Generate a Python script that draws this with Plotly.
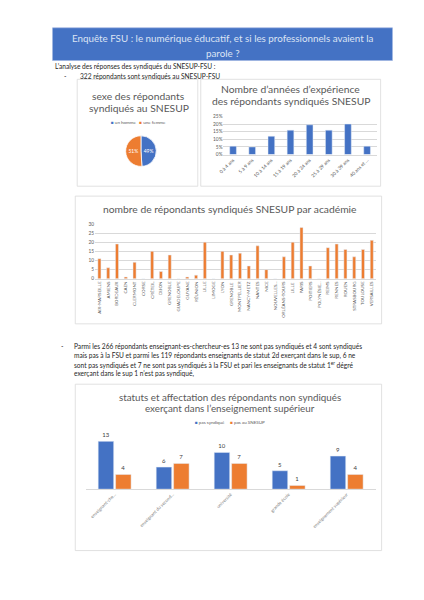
import plotly.graph_objects as go

# --- données ---
sexe_labels = ["un homme", "une femme"]
sexe_values = [49, 51]

experience_cats = ["0 à 4 ans", "5 à 9 ans", "10 à 14 ans", "15 à 19 ans",
                   "20 à 24 ans", "25 à 29 ans", "30 à 39 ans", "40 ans et ..."]
experience_pct = [0.055, 0.05, 0.12, 0.16, 0.195, 0.16, 0.20, 0.055]

academies = ["AIX-MARSEILLE", "AMIENS", "BORDEAUX", "CAEN", "CLERMONT", "CORSE",
             "CRÉTEIL", "DIJON", "GRENOBLE", "GUADELOUPE", "GUYANE", "RÉUNION",
             "LILLE", "LIMOGE", "LYON", "GRENOBLE ", "MONTPELLIER", "NANCY-METZ",
             "NANTES", "NICE", "NOUVELLES...", "ORLÉANS-TOURS", "LILLE ", "PARIS",
             "POITIERS", "POLYNÉSIE...", "REIMS", "RENNES", "ROUEN", "STRASBOURG",
             "TOULOUSE", "VERSAILLES"]
academie_counts = [11, 6, 19, 1, 9, 0, 15, 4, 13, 0, 1, 2, 20, 0, 15, 13, 14, 7,
                   18, 5, 0, 12, 20, 28, 7, 0, 17, 19, 16, 12, 16, 21]

statut_cats = ["enseignant-che...", "enseignant du second...", "université",
               "grande école", "enseignement supérieur"]
pas_syndique = [13, 6, 10, 5, 9]
pas_snesup = [4, 7, 7, 1, 4]

BLUE = "#4472C4"
ORANGE = "#ED7D31"
GREY = "#595959"
FONT = "Lato"
W, H = 424, 600


def X(px):
    return px / W


def Y(py):
    return 1 - py / H


fig = go.Figure()

# camembert sexe
fig.add_trace(go.Pie(
    labels=sexe_labels, values=sexe_values, sort=False, direction="clockwise",
    marker=dict(colors=[BLUE, ORANGE], line=dict(color="white", width=0.8)),
    texttemplate="%{value}%", textposition="inside",
    textfont=dict(color="white", size=5, family=FONT),
    insidetextorientation="horizontal",
    domain=dict(x=[X(114), X(145)], y=[Y(157), Y(126)]),
    showlegend=False, hoverinfo="label+percent",
))

# expérience
fig.add_trace(go.Bar(
    x=experience_cats, y=experience_pct, marker_color=BLUE, width=0.35,
    xaxis="x", yaxis="y", showlegend=False,
))

# académies
fig.add_trace(go.Bar(
    x=academies, y=academie_counts, marker_color=ORANGE, width=0.35,
    xaxis="x2", yaxis="y2", showlegend=False,
))

# statuts non syndiqués
fig.add_trace(go.Bar(
    x=statut_cats, y=pas_syndique, name="pas syndiqué", marker_color=BLUE,
    text=pas_syndique, textposition="outside", cliponaxis=False,
    textfont=dict(size=6, color="#404040", family=FONT),
    xaxis="x3", yaxis="y3", showlegend=False,
))
fig.add_trace(go.Bar(
    x=statut_cats, y=pas_snesup, name="pas au SNESUP", marker_color=ORANGE,
    text=pas_snesup, textposition="outside", cliponaxis=False,
    textfont=dict(size=6, color="#404040", family=FONT),
    xaxis="x3", yaxis="y3", showlegend=False,
))

tick = dict(family=FONT, size=4.8, color=GREY)
fig.update_layout(
    width=W, height=H, margin=dict(l=0, r=0, t=0, b=0),
    paper_bgcolor="white", plot_bgcolor="white",
    font=dict(family=FONT, color=GREY),
    barmode="group", bargap=0.4, bargroupgap=0.11,
    xaxis=dict(domain=[X(213), X(368)], anchor="y", tickangle=-45, tickfont=tick,
               showline=True, linecolor="#D9D9D9", linewidth=0.8, ticks=""),
    yaxis=dict(domain=[Y(145), Y(106.5)], anchor="x", range=[0, 0.25], dtick=0.05,
               tickformat=".0%", tickfont=tick, gridcolor="#D9D9D9", gridwidth=0.6,
               zeroline=False),
    xaxis2=dict(domain=[X(83), X(367.5)], anchor="y2", tickangle=-90,
                tickfont=dict(family=FONT, size=4.5, color=GREY),
                showline=True, linecolor="#D9D9D9", linewidth=0.8, ticks=""),
    yaxis2=dict(domain=[Y(270.5), Y(215)], anchor="x2", range=[0, 30], dtick=5,
                tickfont=tick, gridcolor="#D9D9D9", gridwidth=0.6, zeroline=False),
    xaxis3=dict(domain=[X(73.5), X(367)], anchor="y3", tickangle=-45,
                tickfont=dict(family=FONT, size=4.5, color="#7F7F7F"),
                showline=True, linecolor="#D9D9D9", linewidth=0.8, ticks=""),
    yaxis3=dict(domain=[Y(483), Y(431)], anchor="x3", range=[0, 14],
                visible=False, showgrid=False),
)

shapes = [
    dict(type="rect", xref="paper", yref="paper",
         x0=X(40), x1=X(384), y0=Y(50), y1=Y(17),
         fillcolor=BLUE, line=dict(color="#9DB4E0", width=0.6), layer="below"),
]
for x0, y0, x1, y1 in [(65, 69, 187, 177), (190, 69, 372, 177),
                       (63, 187, 373, 316), (63, 377, 373, 545)]:
    shapes.append(dict(type="rect", xref="paper", yref="paper",
                       x0=X(x0), x1=X(x1), y0=Y(y1), y1=Y(y0),
                       line=dict(color="#D9D9D9", width=0.8), layer="below"))
fig.update_layout(shapes=shapes)


def note(px, py, text, size, color="#262626", xanchor="left", align="left"):
    fig.add_annotation(x=X(px), y=Y(py), xref="paper", yref="paper", text=text,
                       showarrow=False, xanchor=xanchor, yanchor="middle", align=align,
                       font=dict(family=FONT, size=size, color=color))


note(212, 27, "Enquête FSU : le numérique éducatif, et si les professionnels avaient la",
     9.8, color="#DCE4F4", xanchor="center")
note(212, 42, "parole ?", 9.8, color="#DCE4F4", xanchor="center")
note(40, 55.5, "L’analyse des réponses des syndiqués du SNESUP-FSU :", 6.6)
note(50, 65.5, "-", 6.6)
note(66, 65.5, "322 répondants sont syndiqués au SNESUP-FSU", 6.6)

para = ["Parmi les 266 répondants enseignant-es-chercheur-es 13 ne sont pas syndiqués et 4 sont syndiqués",
        "mais pas à la FSU et parmi les 119 répondants enseignants de statut 2d exerçant dans le sup, 6 ne",
        "sont pas syndiqués et 7 ne sont pas syndiqués à la FSU et pari les enseignants de statut 1<sup>er</sup> dégré",
        "exerçant dans le sup 1 n’est pas syndiqué,"]
note(47, 338.5, "-", 6.6)
for i, line in enumerate(para):
    note(60, 338.5 + i * 9.3, line, 6.6)

# titres des graphiques
note(127, 86, "sexe des répondants", 10.3, color=GREY, xanchor="center")
note(127, 97.5, "syndiqués au SNESUP", 10.3, color=GREY, xanchor="center")
note(281, 79, "Nombre d’années d’expérience", 10.3, color=GREY, xanchor="center")
note(281, 91, "des répondants syndiqués SNESUP", 10.3, color=GREY, xanchor="center")
note(220, 200.5, "nombre de répondants syndiqués SNESUP par académie", 10.3,
     color=GREY, xanchor="center")
note(220, 389.5, "statuts et affectation des répondants non syndiqués", 9.8,
     color=GREY, xanchor="center")
note(220, 401, "exerçant dans l’enseignement supérieur", 9.8, color=GREY,
     xanchor="center")

# légendes
note(127, 112.5, f"<span style='color:{BLUE}'>■</span> {sexe_labels[0]}   "
     f"<span style='color:{ORANGE}'>■</span> {sexe_labels[1]}", 4.5, color=GREY,
     xanchor="center")
note(220, 416, f"<span style='color:{BLUE}'>■</span> pas syndiqué     "
     f"<span style='color:{ORANGE}'>■</span> pas au SNESUP", 4.5, color=GREY,
     xanchor="center")

fig.write_html("out.html")
